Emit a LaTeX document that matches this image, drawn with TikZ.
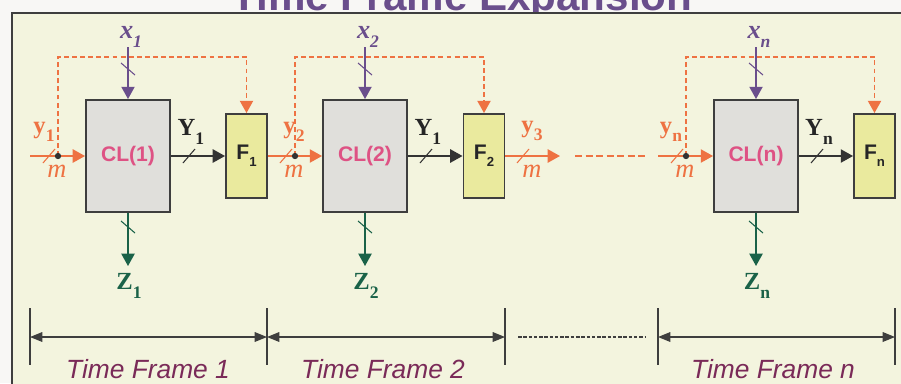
\documentclass[tikz,border=0pt]{standalone}
\usepackage{fontspec}
\setmainfont{Liberation Serif}
\setsansfont{Liberation Sans}
\usepackage{tikz}
\usetikzlibrary{arrows.meta}
\definecolor{page}{RGB}{248,247,245}
\definecolor{panel}{RGB}{243,244,222}
\definecolor{frame}{RGB}{62,62,62}
\definecolor{feed}{RGB}{238,114,66}
\definecolor{prim}{RGB}{106,78,140}
\definecolor{outp}{RGB}{26,98,72}
\definecolor{clpink}{RGB}{222,82,132}
\definecolor{clfill}{RGB}{224,223,219}
\definecolor{ffill}{RGB}{234,234,158}
\definecolor{tf}{RGB}{122,42,88}
\newcommand\lowsub[1]{\raisebox{-.75ex}{\fontsize{10}{10}\selectfont #1}}
\tikzset{
  clblock/.style={draw=frame,line width=1.1pt,fill=clfill,minimum width=1.68cm,minimum height=2.24cm,
    text=clpink,font=\sffamily\bfseries\fontsize{12}{14}\selectfont},
  ffblock/.style={draw=frame,line width=1.1pt,fill=ffill,minimum width=.82cm,minimum height=1.68cm,
    text=black!85,font=\sffamily\bfseries\fontsize{12}{14}\selectfont},
  inwire/.style={feed,line width=1.1pt,->},
  fbwire/.style={feed,line width=1pt,dash pattern=on 2.8pt off 1.8pt,->},
  xwire/.style={prim,line width=.9pt,->},
  zwire/.style={outp,line width=.9pt,->},
  ywire/.style={black!80,line width=1.1pt,->},
  dim/.style={frame,line width=.7pt,{Triangle[length=7pt,width=5.5pt]}-{Triangle[length=7pt,width=5.5pt]}},
  divider/.style={frame,line width=.7pt},
  ilab/.style={feed,font=\bfseries\fontsize{14}{16}\selectfont},
  mlab/.style={feed,font=\itshape\fontsize{15}{16}\selectfont},
  xlab/.style={prim,font=\bfseries\itshape\fontsize{15}{16}\selectfont},
  ylab/.style={black!85,font=\bfseries\fontsize{14}{16}\selectfont},
  zlab/.style={outp,font=\bfseries\fontsize{14}{16}\selectfont},
  tflab/.style={tf,anchor=base,font=\sffamily\itshape\fontsize{15}{16}\selectfont},
  headline/.style={prim,anchor=base,font=\sffamily\bfseries\fontsize{24}{28}\selectfont},
  hmark/.pic={\draw[line width=.6pt] (-6,7) -- (6,-7);},
  vmark/.pic={\draw[line width=.6pt] (-7,-6) -- (7,6);}
}
\begin{document}
\begin{tikzpicture}[x=.02cm,y=-.02cm,>={Triangle[length=7pt,width=7.5pt]}]
\useasboundingbox (0,0) rectangle (901,383);
\fill[page] (0,0) rectangle (901,383);
\node[headline] (ttl) at (462,10) {Time Frame Expansion};
\draw[frame,line width=1.1pt,fill=panel] (12,13) rectangle (930,410);
\coordinate (in1) at (30,156);
\coordinate (inn) at (658,156);
\foreach \k/\cx/\fx/\yy/\lx/\src in {1/128/246.5/1/44/in1,2/365/484/1/294/f1.east,n/756/874.5/n/671/inn} {
  \node[clblock] (cl\k) at (\cx,156) {CL(\k)};
  \node[ffblock] (f\k) at (\fx,156) {F\raisebox{-.6ex}{\fontsize{7.5}{8}\selectfont\k}};
  \coordinate (d\k) at (\cx-70,156);
  \coordinate (xi\k) at (\cx,47);
  \coordinate (zo\k) at (\cx,266);
  \draw[inwire] (\src) -- (cl\k.west);
  \draw[fbwire] (d\k) -- ++(0,-99) -| (f\k.north);
  \fill[black!80] (d\k) circle (1.8pt);
  \pic[feed] at (\cx-79,156) {hmark};
  \draw[xwire] (xi\k) -- (cl\k.north);
  \pic[prim] at (\cx,69) {vmark};
  \draw[zwire] (cl\k.south) -- (zo\k);
  \pic[outp] at (\cx,227) {vmark};
  \draw[ywire] (cl\k.east) -- (f\k.west);
  \pic[black!80] at (\cx+61,156) {hmark};
  \node[ilab] (y\k) at (\lx,132) {y\lowsub{\k}};
  \node[mlab] (m\k) at (\cx-71,171) {m};
  \node[xlab] (x\k) at (\cx+3,37) {x\lowsub{\k}};
  \node[ylab] (yo\k) at (\cx+63,132) {Y\lowsub{\yy}};
  \node[zlab] (z\k) at (\cx+1,286) {Z\lowsub{\k}};
}
\coordinate (y3e) at (560,156);
\draw[inwire] (f2.east) -- (y3e);
\pic[feed] at (523,156) {hmark};
\node[ilab] (y3) at (532,131) {y\lowsub{3}};
\node[mlab] (m3) at (532,171) {m};
\coordinate (ga) at (575,156);
\coordinate (gb) at (645,156);
\draw[feed,line width=1.1pt,dash pattern=on 4pt off 2pt] (ga) -- (gb);
\foreach \i/\x in {0/30,1/267,2/505,3/658,4/895} {
  \draw[divider] (\x,308) -- (\x,365);
  \coordinate (t\i) at (\x,337);
}
\draw[dim] (t0) -- (t1);
\draw[dim] (t1) -- (t2);
\draw[dim] (t3) -- (t4);
\coordinate (da) at (518,337);
\coordinate (db) at (645,337);
\draw[frame,line width=.6pt,dash pattern=on 2pt off 1pt] (da) -- (db);
\node[tflab] (tf1) at (148,378) {Time Frame 1};
\node[tflab] (tf2) at (383,378) {Time Frame 2};
\node[tflab] (tfn) at (773,378) {Time Frame n};
\end{tikzpicture}
\end{document}
